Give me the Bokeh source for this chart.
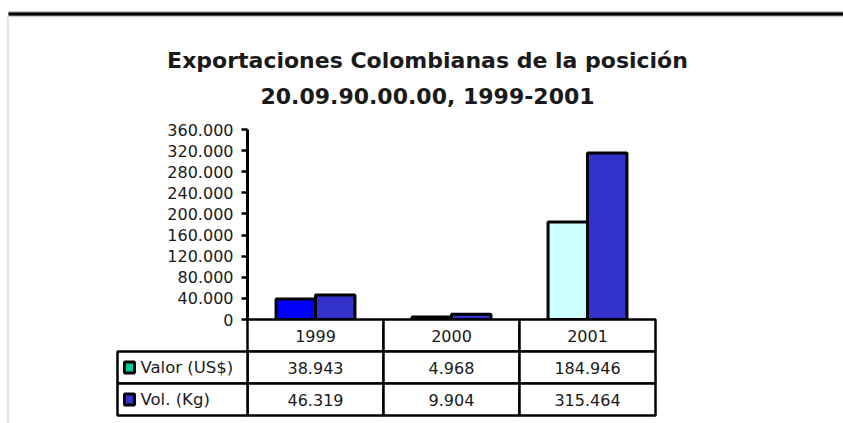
from bokeh.plotting import figure
from bokeh.models import Range1d, LinearAxis, FixedTicker, CustomJSTickFormatter, ColumnDataSource
from bokeh.core.properties import value
from bokeh.embed import file_html
from bokeh.resources import INLINE

# ---- data -------------------------------------------------------------
years = ["1999", "2000", "2001"]
valor_usd = [38943, 4968, 184946]
vol_kg = [46319, 9904, 315464]
series_names = ["Valor (US$)", "Vol. (Kg)"]
y_ticks = [0, 40000, 80000, 120000, 160000, 200000, 240000, 280000, 320000, 360000]
title_lines = ["Exportaciones Colombianas de la posición", "20.09.90.00.00, 1999-2001"]

# ---- styling ----------------------------------------------------------
valor_colors = ["#0000FF", "#101060", "#CCFFFF"]
vol_color = "#3333CC"
legend_colors = ["#00CC99", "#3333CC"]
FONT = "DejaVu Sans"
TEXT_COLOR = "#1a1a1a"

# ---- geometry (pixels) ------------------------------------------------
W, H = 843, 423
BOX_L, BOX_R, BOX_T, BOX_B = 247, 655, 129, 319   # value area: axis at left, zero line at bottom
Y_MAX = y_ticks[-1]
ROW_H = 32                                          # data table row height
TABLE_L = 117                                       # left edge of the series-name column
BAR_W = 0.29                                        # bar width as a fraction of a category

cat_px = (BOX_R - BOX_L) / len(years)
val_per_px = Y_MAX / (BOX_B - BOX_T)


def px_to_cat(px):
    return (px - BOX_L) / cat_px


def fmt(v):
    return f"{v:,}".replace(",", ".")


p = figure(
    width=W, height=H,
    output_backend="svg", toolbar_location=None,
    x_range=Range1d(px_to_cat(0), px_to_cat(W)),
    y_range=Range1d(-(H - BOX_B) * val_per_px, Y_MAX + BOX_T * val_per_px),
    x_axis_type=None, y_axis_type=None,
    min_border=0, outline_line_color=None,
    background_fill_color="white", border_fill_color="white",
)
p.extra_y_ranges = {
    "rows": Range1d(start=(H - BOX_B) / ROW_H, end=-BOX_B / ROW_H),
    "px": Range1d(start=H, end=0),
}
p.extra_x_ranges = {"px": Range1d(0, W)}

# ---- page frame: heavy rule on top, faint rule on the left -------------
p.segment(x0=[8], y0=[13.5], x1=[W], y1=[13.5], line_color="#9a9a9a", line_width=5,
          x_range_name="px", y_range_name="px")
p.segment(x0=[8], y0=[13.5], x1=[W], y1=[13.5], line_color="black", line_width=3,
          x_range_name="px", y_range_name="px")
p.segment(x0=[7.5], y0=[15], x1=[7.5], y1=[H], line_color="#d5deea", line_width=1.5,
          x_range_name="px", y_range_name="px")

# ---- title ------------------------------------------------------------
p.text(x=[427, 427], y=[60, 96], text=title_lines,
       x_range_name="px", y_range_name="px",
       text_align="center", text_baseline="alphabetic",
       text_font=value(FONT), text_font_style="bold", text_font_size="22px",
       text_color=TEXT_COLOR)

# ---- bars -------------------------------------------------------------
centers = [i + 0.5 for i in range(len(years))]
bars = ColumnDataSource(dict(
    x_valor=[c - BAR_W / 2 for c in centers],
    x_vol=[c + BAR_W / 2 for c in centers],
    valor=valor_usd, vol=vol_kg, valor_color=valor_colors,
))
p.vbar(x="x_valor", top="valor", bottom=0, width=BAR_W, source=bars,
       fill_color="valor_color", line_color="black", line_width=3)
p.vbar(x="x_vol", top="vol", bottom=0, width=BAR_W, source=bars,
       fill_color=vol_color, line_color="black", line_width=3)

# ---- data table under the bars ------------------------------------------
n = len(years)
# header row with the years
p.quad(left=list(range(n)), right=[i + 1 for i in range(n)], top=[0] * n, bottom=[1] * n,
       y_range_name="rows", fill_color="white", line_color="black", line_width=2.5)
# value rows
for r in (1, 2):
    p.quad(left=list(range(n)), right=[i + 1 for i in range(n)], top=[r] * n, bottom=[r + 1] * n,
           y_range_name="rows", fill_color="white", line_color="black", line_width=2.5)
# series-name column
p.quad(left=[px_to_cat(TABLE_L)] * 2, right=[0, 0], top=[1, 2], bottom=[2, 3],
       y_range_name="rows", fill_color="white", line_color="black", line_width=2.5)

cell_text = dict(y_range_name="rows", text_align="center", text_baseline="middle",
                 text_font=value(FONT), text_font_size="16px", text_color=TEXT_COLOR)
p.text(x=centers, y=[0.5] * n, text=years, **cell_text)
p.text(x=centers, y=[1.5] * n, text=[fmt(v) for v in valor_usd], **cell_text)
p.text(x=centers, y=[2.5] * n, text=[fmt(v) for v in vol_kg], **cell_text)

# legend keys and series names
p.rect(x=[px_to_cat(129)] * 2, y=[1.5, 2.5], width=10, height=11,
       width_units="screen", height_units="screen", y_range_name="rows",
       fill_color=legend_colors, line_color="black", line_width=3)
p.text(x=[px_to_cat(140)] * 2, y=[1.5, 2.5], text=series_names,
       y_range_name="rows", text_align="left", text_baseline="middle",
       text_font=value(FONT), text_font_size="16.5px", text_color=TEXT_COLOR)

# ---- value axis -------------------------------------------------------
yaxis = LinearAxis(
    fixed_location=0, bounds=(0, Y_MAX),
    ticker=FixedTicker(ticks=y_ticks),
    formatter=CustomJSTickFormatter(
        code="return Math.round(tick).toString().replace(/\\B(?=(\\d{3})+(?!\\d))/g, '.');"),
)
yaxis.axis_line_color = "black"
yaxis.axis_line_width = 3
yaxis.major_tick_line_color = "black"
yaxis.major_tick_line_width = 2.5
yaxis.major_tick_out = 6
yaxis.major_tick_in = 0
yaxis.minor_tick_out = 0
yaxis.minor_tick_in = 0
yaxis.major_label_standoff = 8
yaxis.major_label_text_font = FONT
yaxis.major_label_text_font_size = "16px"
yaxis.major_label_text_color = TEXT_COLOR
p.add_layout(yaxis, "left")

open("out.html", "w").write(file_html(p, INLINE))
